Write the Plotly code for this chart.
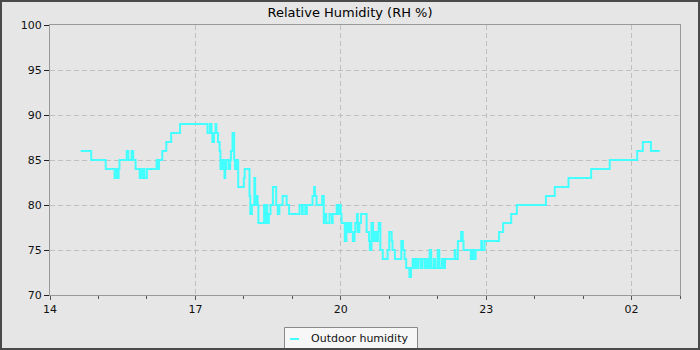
import plotly.graph_objects as go
from datetime import datetime, timedelta

# ---- data ----
times = [
    "14:38", "14:51", "15:09", "15:20", "15:22", "15:23", "15:25", "15:26", "15:35", "15:37",
    "15:41", "15:43", "15:46", "15:51", "15:53", "15:55", "15:56", "15:57", "16:00", "16:12",
    "16:13", "16:15", "16:19", "16:24", "16:30", "16:41", "17:15", "17:18", "17:20", "17:21",
    "17:23", "17:25", "17:26", "17:28", "17:30", "17:31", "17:32", "17:33", "17:35", "17:36",
    "17:37", "17:38", "17:41", "17:43", "17:44", "17:46", "17:48", "17:49", "17:51", "17:53",
    "18:00", "18:01", "18:07", "18:08", "18:10", "18:13", "18:14", "18:15", "18:17", "18:18",
    "18:25", "18:26", "18:28", "18:29", "18:31", "18:33", "18:36", "18:40", "18:42", "18:44",
    "18:48", "18:53", "18:56", "19:09", "19:12", "19:13", "19:16", "19:18", "19:25", "19:27",
    "19:28", "19:30", "19:37", "19:39", "19:40", "19:42", "19:46", "19:49", "19:50", "19:55",
    "19:57", "19:59", "20:00", "20:01", "20:05", "20:07", "20:09", "20:11", "20:13", "20:15",
    "20:17", "20:18", "20:20", "20:21", "20:23", "20:25", "20:32", "20:35", "20:36", "20:38",
    "20:40", "20:42", "20:44", "20:46", "20:47", "20:49", "20:52", "20:58", "21:00", "21:03",
    "21:04", "21:07", "21:15", "21:17", "21:19", "21:21", "21:25", "21:27", "21:29", "21:31",
    "21:32", "21:34", "21:36", "21:39", "21:41", "21:44", "21:46", "21:48", "21:50", "21:52",
    "21:55", "21:57", "22:00", "22:02", "22:05", "22:07", "22:09", "22:21", "22:22", "22:25",
    "22:29", "22:31", "22:32", "22:41", "22:43", "22:45", "22:47", "22:54", "22:55", "22:58",
    "23:16", "23:21", "23:31", "23:38", "00:14", "00:25", "00:42", "01:10", "01:33", "02:07",
    "02:14", "02:24", "02:35",
]
humidity = [
    86, 85, 84, 83, 84, 83, 84, 85, 86, 85,
    86, 85, 84, 83, 84, 83, 84, 83, 84, 85,
    84, 85, 86, 87, 88, 89, 88, 89, 88, 87,
    88, 89, 88, 87, 86, 84, 85, 84, 85, 83,
    84, 85, 84, 85, 86, 88, 85, 84, 85, 82,
    83, 84, 81, 79, 80, 83, 80, 81, 80, 78,
    80, 78, 80, 78, 79, 80, 82, 80, 79, 80,
    81, 80, 79, 80, 79, 80, 79, 80, 81, 82,
    81, 80, 81, 78, 79, 78, 79, 78, 79, 80,
    79, 80, 79, 78, 76, 78, 77, 78, 77, 76,
    77, 78, 79, 77, 78, 79, 77, 76, 75, 78,
    76, 77, 76, 77, 78, 75, 74, 75, 77, 76,
    75, 74, 76, 75, 74, 73, 72, 73, 74, 73,
    74, 73, 74, 73, 74, 73, 74, 73, 75, 73,
    74, 73, 75, 73, 74, 73, 74, 75, 74, 76,
    77, 76, 75, 74, 75, 74, 75, 76, 75, 76,
    77, 78, 79, 80, 81, 82, 83, 84, 85, 86,
    87, 86, 86,
]
series_name = "Outdoor humidity"
chart_title = "Relative Humidity (RH %)"
start_date = datetime(2024, 1, 14)

# build datetimes (times before 14:00 belong to the next day)
x_vals = []
for t in times:
    h, m = map(int, t.split(":"))
    d = start_date + timedelta(hours=h, minutes=m)
    if h < 14:
        d += timedelta(days=1)
    x_vals.append(d)

x_start = start_date + timedelta(hours=14)
x_end = start_date + timedelta(days=1, hours=3)

line_color = "#44ffff"
fig = go.Figure()
fig.add_trace(go.Scatter(
    x=x_vals, y=humidity, mode="lines", name=series_name,
    line=dict(color=line_color, width=2, shape="hv"),
    showlegend=False,
))

font_family = "DejaVu Sans"
bg = "#e6e6e6"
fig.update_layout(
    width=700, height=350, autosize=False,
    margin=dict(l=50, r=20, t=25, b=55, autoexpand=False),
    paper_bgcolor=bg, plot_bgcolor=bg,
    font=dict(family=font_family, size=11, color="#111111"),
    title=dict(text=chart_title, x=0.5, xref="container", xanchor="center",
               y=1 - 12 / 350, yref="container", yanchor="middle",
               font=dict(family=font_family, size=13, color="#000000")),
    showlegend=False,
)
fig.update_xaxes(
    type="date", range=[x_start, x_end],
    tick0=x_start, dtick=3 * 3600000, tickformat="%H",
    ticks="outside", ticklen=4, tickcolor="#555555", tickwidth=1,
    minor=dict(dtick=3600000, tick0=x_start, ticks="outside", ticklen=3,
               tickcolor="#555555", showgrid=False),
    showgrid=True, gridcolor="#c0c0c0", griddash="5px,3px", gridwidth=1,
    showline=True, linecolor="#999999", linewidth=1, mirror=True,
    zeroline=False, tickfont=dict(size=11, color="#111111"),
)
fig.update_yaxes(
    range=[70, 100], tick0=70, dtick=5,
    ticks="outside", ticklen=5, tickcolor="#222222", tickwidth=1,
    showgrid=True, gridcolor="#c0c0c0", griddash="5px,3px", gridwidth=1,
    showline=True, linecolor="#999999", linewidth=1, mirror=True,
    zeroline=False, tickfont=dict(size=11, color="#111111"),
)

pw, ph = 630.0, 270.0
def px_x(v):
    return (v - 50) / pw
def px_y(v):
    return (295 - v) / ph

# legend box (drawn as shapes + text)
fig.add_shape(type="rect", xref="paper", yref="paper",
              x0=px_x(284.5), x1=px_x(417.5), y0=px_y(350), y1=px_y(327.5),
              line=dict(color="#888888", width=1), fillcolor="#f7f7f7",
              layer="above")
fig.add_shape(type="line", xref="paper", yref="paper",
              x0=px_x(290), x1=px_x(299), y0=px_y(339), y1=px_y(339),
              line=dict(color=line_color, width=2), layer="above")
fig.add_annotation(text=series_name, xref="paper", yref="paper",
                   x=px_x(308.5), y=px_y(338), xanchor="left", yanchor="middle",
                   showarrow=False,
                   font=dict(family=font_family, size=11, color="#111111"))

# dark outer frame around the whole image
fig.add_shape(type="rect", xref="paper", yref="paper",
              x0=px_x(1), x1=px_x(699), y0=px_y(349), y1=px_y(1),
              line=dict(color="#4a4a4a", width=2), fillcolor="rgba(0,0,0,0)",
              layer="above")

fig.write_html("out.html")
